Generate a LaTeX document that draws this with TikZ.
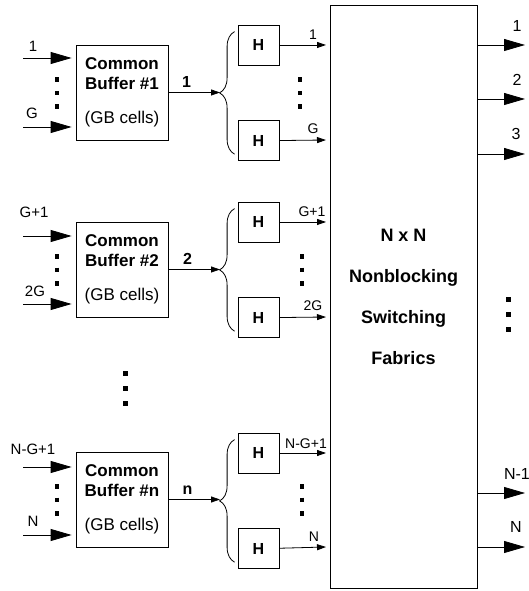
\documentclass[tikz,border=0pt]{standalone}
\usepackage{fontspec}
\setmainfont{Liberation Sans}
\usetikzlibrary{arrows.meta,positioning,decorations.pathreplacing}

\begin{document}
\begin{tikzpicture}[
    x=1pt, y=1pt,
    node distance=55pt,
    buffer/.style={rectangle, draw, line width=0.8pt, minimum width=92pt, minimum height=95pt, align=center, inner sep=0pt, font=\fontsize{17}{20}\selectfont},
    hbox/.style={rectangle, draw, line width=0.8pt, minimum width=41pt, minimum height=40pt, font=\fontsize{16}{18}\selectfont\bfseries},
    fabric/.style={rectangle, draw, line width=0.9pt, minimum width=147pt, minimum height=583pt, align=center, font=\fontsize{18}{41}\selectfont\bfseries},
    inlab/.style={inner sep=1pt, font=\fontsize{15}{15}\selectfont},
    hlab/.style={inner sep=1pt, font=\fontsize{14}{14}\selectfont},
    outlab/.style={inner sep=1pt, font=\fontsize{16}{16}\selectfont},
    numlab/.style={inner sep=1pt, font=\fontsize{16}{16}\selectfont\bfseries},
    bigarrow/.style={-{Triangle[length=21pt, width=12pt]}, line width=0.8pt},
    arrow/.style={-{Triangle[length=9pt, width=6pt]}, line width=0.8pt},
    brace/.style={decorate, decoration={brace, amplitude=15pt}, line width=0.8pt},
    dotcol/.style={line width=4.5pt, dash pattern=on 4.5pt off 9pt},
    bigdots/.style={line width=5pt, dash pattern=on 5pt off 10pt}
]
  \useasboundingbox (0,0) rectangle (529,591);

  % Common buffers
  \node[buffer] (buf1) at (122,498.5) {\textbf{Common}\\\textbf{Buffer \#1}\\[14pt](GB cells)};
  \node[buffer] (buf2) at (122,321.5) {\textbf{Common}\\\textbf{Buffer \#2}\\[14pt](GB cells)};
  \node[buffer] (bufn) at (122,91.5) {\textbf{Common}\\\textbf{Buffer \#n}\\[14pt](GB cells)};

  % H boxes
  \node[hbox] (h1a) at (258.5,546) {H};
  \node[hbox, below=of h1a] (h1b) {H};
  \node[hbox] (h2a) at (258.5,369) {H};
  \node[hbox, below=of h2a] (h2b) {H};
  \node[hbox] (hna) at (258.5,138) {H};
  \node[hbox, below=of hna] (hnb) {H};

  % Switching fabric
  \node[fabric] (fabric) at (403.5,294.5) {N x N\\Nonblocking\\Switching\\Fabrics};

  % Inputs
  \coordinate (in1a) at (23,533);
  \coordinate (in1b) at (23,464);
  \coordinate (in2a) at (23,355);
  \coordinate (in2b) at (23,287);
  \coordinate (inna) at (23,124);
  \coordinate (innb) at (23,56);
  \draw[bigarrow, shorten >=4pt] (in1a) -- (in1a -| buf1.west);
  \draw[bigarrow, shorten >=4pt] (in1b) -- (in1b -| buf1.west);
  \draw[bigarrow, shorten >=4pt] (in2a) -- (in2a -| buf2.west);
  \draw[bigarrow, shorten >=4pt] (in2b) -- (in2b -| buf2.west);
  \draw[bigarrow, shorten >=4pt] (inna) -- (inna -| bufn.west);
  \draw[bigarrow, shorten >=4pt] (innb) -- (innb -| bufn.west);
  \node[inlab, above=5pt of in1a, xshift=10pt] (l1a) {1};
  \node[inlab, above=7pt of in1b, xshift=9pt] (l1b) {G};
  \node[inlab, above=17pt of in2a, xshift=11pt] (l2a) {G+1};
  \node[inlab, above=6pt of in2b, xshift=12pt] (l2b) {2G};
  \node[inlab, above=11pt of inna, xshift=10pt] (lna) {N-G+1};
  \node[inlab, above=7pt of innb, xshift=10pt] (lnb) {N};

  % Buffer to H boxes
  \coordinate (t1) at (220,498.5);
  \coordinate (t2) at (220,321.5);
  \coordinate (tn) at (220,91.5);
  \draw[arrow] (buf1) -- node[numlab, above=3.5pt, pos=0.35] (n1) {1} (t1);
  \draw[arrow] (buf2) -- node[numlab, above=3.5pt, pos=0.37] (n2) {2} (t2);
  \draw[arrow] (bufn) -- node[numlab, above=3.5pt, pos=0.37] (nn) {n} (tn);
  \draw[brace] ([shift={(-3pt,7pt)}]h1b.south west) -- ([shift={(-3pt,-7pt)}]h1a.north west);
  \draw[brace] ([shift={(-3pt,7pt)}]h2b.south west) -- ([shift={(-3pt,-7pt)}]h2a.north west);
  \draw[brace] ([shift={(-3pt,7pt)}]hnb.south west) -- ([shift={(-3pt,-7pt)}]hna.north west);

  % H outputs
  \coordinate (o1a) at (326,546);
  \coordinate (o1b) at (326,451);
  \coordinate (o2a) at (326,369);
  \coordinate (o2b) at (326,274);
  \coordinate (ona) at (326,138);
  \coordinate (onb) at (326,44);
  \draw[arrow] (h1a) -- (o1a);
  \draw[arrow] (h1b) -- (o1b);
  \draw[arrow] (h2a) -- (o2a);
  \draw[arrow] (h2b) -- (o2b);
  \draw[arrow] (hna) -- (ona);
  \draw[arrow] (hnb) -- (onb);
  \node[hlab, above=4pt of o1a, xshift=-13pt] (lo1a) {1};
  \node[hlab, above=5pt of o1b, xshift=-13pt] (lo1b) {G};
  \node[hlab, above=4pt of o2a, xshift=-14pt] (lo2a) {G+1};
  \node[hlab, above=5pt of o2b, xshift=-13pt] (lo2b) {2G};
  \node[hlab, above=3pt of ona, xshift=-20pt] (lona) {N-G+1};
  \node[hlab, above=4pt of onb, xshift=-12pt] (lonb) {N};

  % Fabric outputs
  \coordinate (s1) at (525,546);
  \coordinate (s2) at (525,492);
  \coordinate (s3) at (525,437);
  \coordinate (s4) at (525,98);
  \coordinate (s5) at (525,44);
  \draw[bigarrow] (fabric.east |- s1) -- (s1);
  \draw[bigarrow] (fabric.east |- s2) -- (s2);
  \draw[bigarrow] (fabric.east |- s3) -- (s3);
  \draw[bigarrow] (fabric.east |- s4) -- (s4);
  \draw[bigarrow] (fabric.east |- s5) -- (s5);
  \node[outlab, above=12pt of s1, xshift=-8pt] (ls1) {1};
  \node[outlab, above=12pt of s2, xshift=-8pt] (ls2) {2};
  \node[outlab, above=13pt of s3, xshift=-9pt] (ls3) {3};
  \node[outlab, above=12pt of s4, xshift=-8pt] (ls4) {N-1};
  \node[outlab, above=13pt of s5, xshift=-9pt] (ls5) {N};

  % Dots
  \draw[dotcol] (57,513.5) -- (57,482);
  \draw[dotcol] (300,513.5) -- (300,482);
  \draw[dotcol] (57,336.75) -- (57,305.25);
  \draw[dotcol] (302,336.75) -- (302,305.25);
  \draw[dotcol] (57,106.75) -- (57,75.25);
  \draw[dotcol] (302,106.75) -- (302,75.25);
  \draw[bigdots] (125,219.5) -- (125,184.5);
  \draw[bigdots] (508,293.5) -- (508,258.5);
\end{tikzpicture}
\end{document}
